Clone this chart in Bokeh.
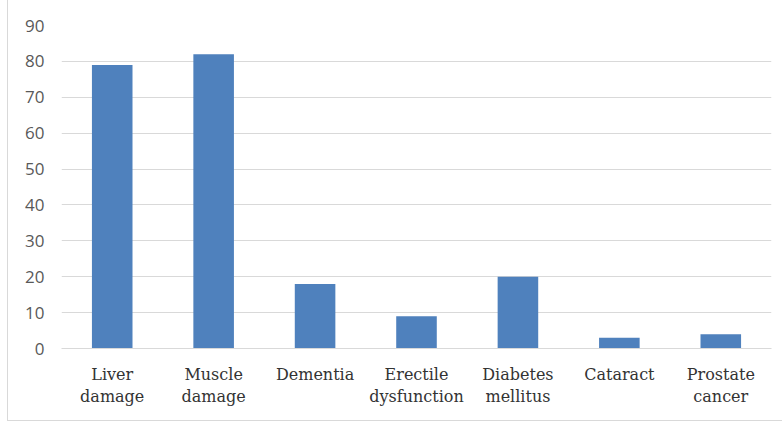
from bokeh.plotting import figure
from bokeh.models import Range1d, FactorRange, ColumnDataSource
from bokeh.embed import file_html
from bokeh.resources import INLINE

categories = ["Liver\ndamage", "Muscle\ndamage", "Dementia", "Erectile\ndysfunction",
              "Diabetes\nmellitus", "Cataract", "Prostate\ncancer"]
values = [79, 82, 18, 9, 20, 3, 4]
y_ticks = [0, 10, 20, 30, 40, 50, 60, 70, 80, 90]

src = ColumnDataSource(dict(cat=categories, val=values))

p = figure(width=775, height=421, output_backend="svg", toolbar_location=None,
           x_range=FactorRange(*categories, range_padding=0), y_range=Range1d(0, 90),
           min_border_left=53, min_border_right=12, min_border_top=25, min_border_bottom=73)
p.vbar(x="cat", top="val", width=0.4, source=src, fill_color="#4f81bd", line_color=None)

p.outline_line_color = None
p.background_fill_color = "white"
p.border_fill_color = "white"
p.xgrid.grid_line_color = None
p.ygrid.grid_line_color = "#d9d9d9"
p.ygrid.grid_line_width = 1

p.yaxis.ticker = y_ticks
p.yaxis.axis_line_color = None
p.yaxis.major_tick_line_color = None
p.yaxis.minor_tick_line_color = None
p.yaxis.major_tick_out = 0
p.yaxis.major_label_standoff = 17
p.yaxis.major_label_text_font = "Open Sans"
p.yaxis.major_label_text_font_size = "17px"
p.yaxis.major_label_text_color = "#595959"

p.xaxis.axis_line_color = "#d9d9d9"
p.xaxis.major_tick_line_color = None
p.xaxis.major_tick_out = 0
p.xaxis.major_label_standoff = 16
p.xaxis.major_label_text_font = "DejaVu Serif"
p.xaxis.major_label_text_font_size = "16px"
p.xaxis.major_label_text_color = "#333333"

p.styles = {"margin-left": "7px", "border-left": "1px solid #d9d9d9",
            "border-bottom": "1px solid #d9d9d9"}

open("out.html", "w").write(file_html(p, INLINE))
